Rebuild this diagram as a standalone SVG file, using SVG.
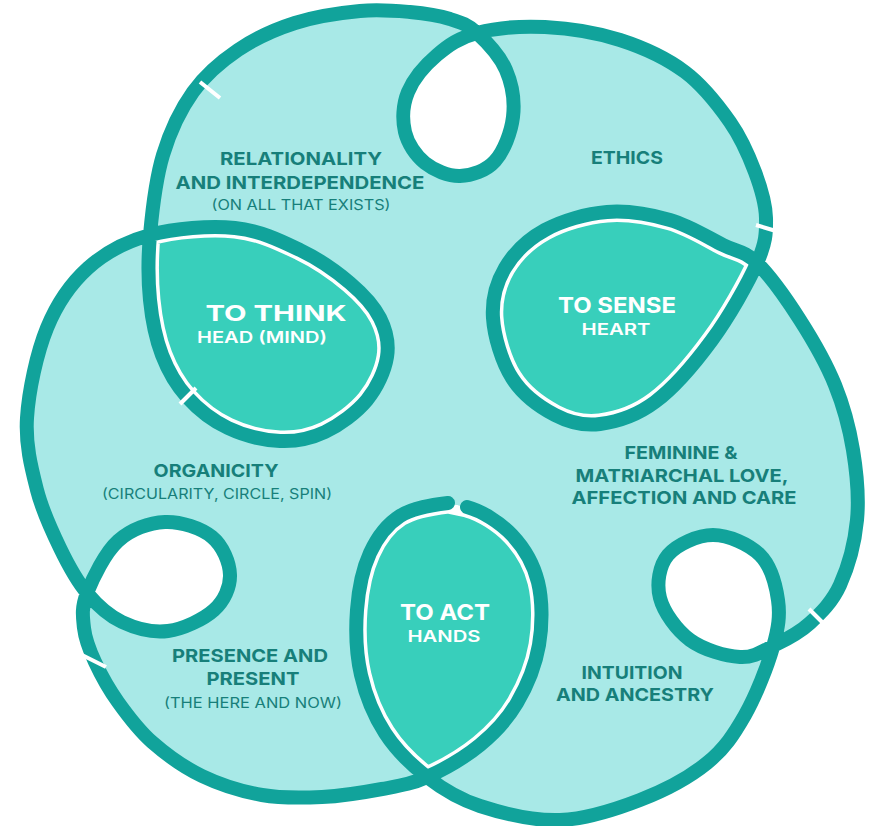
<svg xmlns="http://www.w3.org/2000/svg" xmlns:xlink="http://www.w3.org/1999/xlink" width="879" height="826" viewBox="0 0 879 826">
<style>
.outline{fill:none;stroke:#11a39b;stroke-width:14;stroke-linecap:round;stroke-linejoin:round}
.area{fill:#a8e9e7}
.hole{fill:#ffffff}
.nodefill{fill:#38cfbb}
.sliver{fill:none;stroke:#ffffff;stroke-width:21}
.brk{stroke:#ffffff;stroke-width:4;stroke-linecap:butt}
.lb{font-family:Inter,"Noto Sans",sans-serif;font-weight:700;font-size:18px;fill:#177f7a;text-anchor:middle}
.sub{font-weight:400;font-size:14px}
.nt{font-family:Inter,"Noto Sans",sans-serif;font-weight:700;font-size:22px;fill:#ffffff;text-anchor:middle}
.ns{font-family:Inter,"Noto Sans",sans-serif;font-weight:600;font-size:16px;fill:#ffffff;text-anchor:middle}
</style>
<defs>
<path id="pThink" d="M150 235 C147.8 259.2 148 280 150 300 C152 320 155.8 338.8 162 355 C168.2 371.2 176 384.8 187 397 C198 409.2 212.5 420.7 228 428 C243.5 435.3 263.8 440.3 280 441 C296.2 441.7 310.5 438.8 325 432 C339.5 425.2 356.7 412.5 367 400 C377.3 387.5 384.8 370.7 387 357 C389.2 343.3 386.2 330.3 380 318 C373.8 305.7 363.3 294.3 350 283 C336.7 271.7 319.2 259.2 300 250 C280.8 240.8 260 230.5 235 228 C210 225.5 174.5 228.3 150 235 Z"/>
<path id="pSense" d="M757 263 C744.2 250.5 737.5 252.2 723 245 C708.5 237.8 689.3 225.5 670 220 C650.7 214.5 627.8 210.3 607 212 C586.2 213.7 562 220.7 545 230 C528 239.3 513.7 253.3 505 268 C496.3 282.7 491.8 299.7 493 318 C494.2 336.3 501.7 361.8 512 378 C522.3 394.2 540.3 407.3 555 415 C569.7 422.7 583.3 426.2 600 424 C616.7 421.8 636.3 416 655 402 C673.7 388 695 363.2 712 340 C729 316.8 748 283.3 757 263 Z"/>
<path id="pAct" d="M448 503 C432 505 413 507.7 400 516 C387 524.3 377.2 537.3 370 553 C362.8 568.7 358.5 589.7 357 610 C355.5 630.3 356.3 654.5 361 675 C365.7 695.5 374 716 385 733 C396 750 411.2 764.8 427 777 C443.3 769.7 465 757.3 480 745 C495 732.7 507.2 719.7 517 703 C526.8 686.3 535.5 665.2 539 645 C542.5 624.8 542.5 600.3 538 582 C533.5 563.7 523.8 547.5 512 535 C500.2 522.5 482 511 467 507 Z"/>
<clipPath id="cThink"><use xlink:href="#pThink"/></clipPath>
<clipPath id="cSense"><use xlink:href="#pSense"/></clipPath>
<clipPath id="cAct"><use xlink:href="#pAct"/></clipPath>
</defs>

<g id="background">
<path class="area" d="M427 777 C442.8 789.2 457.8 798.8 480 806 C502.2 813.2 533.3 821 560 820 C586.7 819 615.5 809.5 640 800 C664.5 790.5 689.5 777.2 707 763 C724.5 748.8 734 734.3 745 715 C756 695.7 767.5 666.2 773 647 L775 645 C786.7 639.3 799.2 633 810 623 C820.8 613 832.2 602.2 840 585 C847.8 567.8 854.8 542.5 857 520 C859.2 497.5 856.7 472.5 853 450 C849.3 427.5 843.8 406.7 835 385 C826.2 363.3 813 340.3 800 320 C787 299.7 769.8 275.5 757 263 C766 242.7 766.3 233.2 766 218 C765.7 202.8 761 188 755 172 C749 156 741.7 138.7 730 122 C718.3 105.3 703.3 85.7 685 72 C666.7 58.3 643.3 47.5 620 40 C596.7 32.5 568.8 28.2 545 27 C521.2 25.8 495 28.3 477 33 C467.7 24.5 461.2 22.5 450 19 C438.8 15.5 425 13.3 410 12 C395 10.7 379.2 9.2 360 11 C340.8 12.8 315.3 16.5 295 23 C274.7 29.5 255 38.5 238 50 C221 61.5 205.5 74.5 193 92 C180.5 109.5 170.2 131.2 163 155 C155.8 178.8 152.2 210.8 150 235 C125.5 241.7 105.2 252.5 88 268 C70.8 283.5 57.2 303 47 328 C36.8 353 28.7 391 27 418 C25.3 445 31.5 468.3 37 490 C42.5 511.7 51.7 530.8 60 548 C68.3 565.2 76.7 580.7 87 593 C81.3 607.5 82.7 616.5 84 628 C85.3 639.5 89.3 649.7 95 662 C100.7 674.3 108.5 688.7 118 702 C127.5 715.3 138 729.7 152 742 C166 754.3 183.7 767.2 202 776 C220.3 784.8 242 791.5 262 795 C282 798.5 302 798 322 797 C342 796 364.5 792.3 382 789 C399.5 785.7 410.7 784.3 427 777 Z"/>
<path class="hole" d="M477 33 C459 37.7 448.5 45.2 437 55 C425.5 64.8 413.3 79.2 408 92 C402.7 104.8 402.2 120.2 405 132 C407.8 143.8 415.8 155.7 425 163 C434.2 170.3 448.3 176.3 460 176 C471.7 175.7 486.2 170.8 495 161 C503.8 151.2 511.2 132.2 513 117 C514.8 101.8 512 84 506 70 C500 56 486.3 41.5 477 33 Z"/>
<path class="hole" d="M87 593 C97.3 605.3 108.5 615.7 122 622 C135.5 628.3 152.7 633 168 631 C183.3 629 203.7 619.3 214 610 C224.3 600.7 230.3 587.2 230 575 C229.7 562.8 222.8 545.8 212 537 C201.2 528.2 180.7 521.3 165 522 C149.3 522.7 131 529.2 118 541 C105 552.8 92.7 578.5 87 593 Z"/>
<path class="hole" d="M773 647 C778.5 627.8 780.2 615.3 778 600 C775.8 584.7 770.8 565.8 760 555 C749.2 544.2 728.3 535 713 535 C697.7 535 676.8 544.5 668 555 C659.2 565.5 656.3 583.8 660 598 C663.7 612.2 676.7 630.2 690 640 C703.3 649.8 725.8 656.2 740 657 C754.2 657.8 763.3 650.7 775 645 Z"/>
</g>

<g id="node-think">
<use xlink:href="#pThink" class="nodefill"/>
<use xlink:href="#pThink" class="sliver" clip-path="url(#cThink)"/>
</g>
<g id="node-sense">
<use xlink:href="#pSense" class="nodefill"/>
<use xlink:href="#pSense" class="sliver" clip-path="url(#cSense)"/>
</g>
<g id="node-act">
<use xlink:href="#pAct" class="nodefill"/>
<use xlink:href="#pAct" class="sliver" clip-path="url(#cAct)"/>
</g>

<g id="connectors">
<path class="outline" d="M448 503 C432 505 413 507.7 400 516 C387 524.3 377.2 537.3 370 553 C362.8 568.7 358.5 589.7 357 610 C355.5 630.3 356.3 654.5 361 675 C365.7 695.5 374 716 385 733 C396 750 411.2 764.8 427 777 C442.8 789.2 457.8 798.8 480 806 C502.2 813.2 533.3 821 560 820 C586.7 819 615.5 809.5 640 800 C664.5 790.5 689.5 777.2 707 763 C724.5 748.8 734 734.3 745 715 C756 695.7 767.5 666.2 773 647 C778.5 627.8 780.2 615.3 778 600 C775.8 584.7 770.8 565.8 760 555 C749.2 544.2 728.3 535 713 535 C697.7 535 676.8 544.5 668 555 C659.2 565.5 656.3 583.8 660 598 C663.7 612.2 676.7 630.2 690 640 C703.3 649.8 725.8 656.2 740 657 C754.2 657.8 763.3 650.7 775 645 C786.7 639.3 799.2 633 810 623 C820.8 613 832.2 602.2 840 585 C847.8 567.8 854.8 542.5 857 520 C859.2 497.5 856.7 472.5 853 450 C849.3 427.5 843.8 406.7 835 385 C826.2 363.3 813 340.3 800 320 C787 299.7 769.8 275.5 757 263 C744.2 250.5 737.5 252.2 723 245 C708.5 237.8 689.3 225.5 670 220 C650.7 214.5 627.8 210.3 607 212 C586.2 213.7 562 220.7 545 230 C528 239.3 513.7 253.3 505 268 C496.3 282.7 491.8 299.7 493 318 C494.2 336.3 501.7 361.8 512 378 C522.3 394.2 540.3 407.3 555 415 C569.7 422.7 583.3 426.2 600 424 C616.7 421.8 636.3 416 655 402 C673.7 388 695 363.2 712 340 C729 316.8 748 283.3 757 263 C766 242.7 766.3 233.2 766 218 C765.7 202.8 761 188 755 172 C749 156 741.7 138.7 730 122 C718.3 105.3 703.3 85.7 685 72 C666.7 58.3 643.3 47.5 620 40 C596.7 32.5 568.8 28.2 545 27 C521.2 25.8 495 28.3 477 33 C459 37.7 448.5 45.2 437 55 C425.5 64.8 413.3 79.2 408 92 C402.7 104.8 402.2 120.2 405 132 C407.8 143.8 415.8 155.7 425 163 C434.2 170.3 448.3 176.3 460 176 C471.7 175.7 486.2 170.8 495 161 C503.8 151.2 511.2 132.2 513 117 C514.8 101.8 512 84 506 70 C500 56 486.3 41.5 477 33 C467.7 24.5 461.2 22.5 450 19 C438.8 15.5 425 13.3 410 12 C395 10.7 379.2 9.2 360 11 C340.8 12.8 315.3 16.5 295 23 C274.7 29.5 255 38.5 238 50 C221 61.5 205.5 74.5 193 92 C180.5 109.5 170.2 131.2 163 155 C155.8 178.8 152.2 210.8 150 235 C147.8 259.2 148 280 150 300 C152 320 155.8 338.8 162 355 C168.2 371.2 176 384.8 187 397 C198 409.2 212.5 420.7 228 428 C243.5 435.3 263.8 440.3 280 441 C296.2 441.7 310.5 438.8 325 432 C339.5 425.2 356.7 412.5 367 400 C377.3 387.5 384.8 370.7 387 357 C389.2 343.3 386.2 330.3 380 318 C373.8 305.7 363.3 294.3 350 283 C336.7 271.7 319.2 259.2 300 250 C280.8 240.8 260 230.5 235 228 C210 225.5 174.5 228.3 150 235 C125.5 241.7 105.2 252.5 88 268 C70.8 283.5 57.2 303 47 328 C36.8 353 28.7 391 27 418 C25.3 445 31.5 468.3 37 490 C42.5 511.7 51.7 530.8 60 548 C68.3 565.2 76.7 580.7 87 593 C97.3 605.3 108.5 615.7 122 622 C135.5 628.3 152.7 633 168 631 C183.3 629 203.7 619.3 214 610 C224.3 600.7 230.3 587.2 230 575 C229.7 562.8 222.8 545.8 212 537 C201.2 528.2 180.7 521.3 165 522 C149.3 522.7 131 529.2 118 541 C105 552.8 92.7 578.5 87 593 C81.3 607.5 82.7 616.5 84 628 C85.3 639.5 89.3 649.7 95 662 C100.7 674.3 108.5 688.7 118 702 C127.5 715.3 138 729.7 152 742 C166 754.3 183.7 767.2 202 776 C220.3 784.8 242 791.5 262 795 C282 798.5 302 798 322 797 C342 796 364.5 792.3 382 789 C399.5 785.7 410.7 784.3 427 777 C443.3 769.7 465 757.3 480 745 C495 732.7 507.2 719.7 517 703 C526.8 686.3 535.5 665.2 539 645 C542.5 624.8 542.5 600.3 538 582 C533.5 563.7 523.8 547.5 512 535 C500.2 522.5 482 511 467 507"/>
<line class="brk" x1="756" y1="225" x2="776" y2="231"/>
<line class="brk" x1="809" y1="609" x2="826" y2="626"/>
<line class="brk" x1="80" y1="654" x2="106" y2="667"/>
<line class="brk" x1="180" y1="404" x2="196" y2="388"/>
<line class="brk" x1="200" y1="82" x2="220" y2="98"/>
</g>

<g id="labels">
<text class="lb" x="301" y="165" textLength="162" lengthAdjust="spacingAndGlyphs">RELATIONALITY</text>
<text class="lb" x="300" y="189" textLength="249" lengthAdjust="spacingAndGlyphs">AND INTERDEPENDENCE</text>
<text class="lb sub" x="301" y="210" textLength="179" lengthAdjust="spacingAndGlyphs">(ON ALL THAT EXISTS)</text>
<text class="lb" x="627" y="164" textLength="72" lengthAdjust="spacingAndGlyphs">ETHICS</text>
<text class="lb" x="216" y="477" textLength="125" lengthAdjust="spacingAndGlyphs">ORGANICITY</text>
<text class="lb sub" x="217" y="499" textLength="230" lengthAdjust="spacingAndGlyphs">(CIRCULARITY, CIRCLE, SPIN)</text>
<text class="lb" x="681" y="459" textLength="113" lengthAdjust="spacingAndGlyphs">FEMININE &amp;</text>
<text class="lb" x="682" y="482" textLength="213" lengthAdjust="spacingAndGlyphs">MATRIARCHAL LOVE,</text>
<text class="lb" x="684" y="504" textLength="225" lengthAdjust="spacingAndGlyphs">AFFECTION AND CARE</text>
<text class="lb" x="250" y="662" textLength="156" lengthAdjust="spacingAndGlyphs">PRESENCE AND</text>
<text class="lb" x="253" y="685" textLength="93" lengthAdjust="spacingAndGlyphs">PRESENT</text>
<text class="lb sub" x="253" y="708" textLength="178" lengthAdjust="spacingAndGlyphs">(THE HERE AND NOW)</text>
<text class="lb" x="632" y="679" textLength="101" lengthAdjust="spacingAndGlyphs">INTUITION</text>
<text class="lb" x="635" y="701" textLength="158" lengthAdjust="spacingAndGlyphs">AND ANCESTRY</text>
</g>

<g id="node-think-text">
<text class="nt" x="276" y="321" textLength="141" lengthAdjust="spacingAndGlyphs">TO THINK</text>
<text class="ns" x="262" y="343" textLength="130" lengthAdjust="spacingAndGlyphs">HEAD (MIND)</text>
</g>
<g id="node-sense-text">
<text class="nt" x="617" y="313" textLength="118" lengthAdjust="spacingAndGlyphs">TO SENSE</text>
<text class="ns" x="616" y="335" textLength="69" lengthAdjust="spacingAndGlyphs">HEART</text>
</g>
<g id="node-act-text">
<text class="nt" x="445" y="620" textLength="90" lengthAdjust="spacingAndGlyphs">TO ACT</text>
<text class="ns" x="444" y="642" textLength="73" lengthAdjust="spacingAndGlyphs">HANDS</text>
</g>
</svg>
